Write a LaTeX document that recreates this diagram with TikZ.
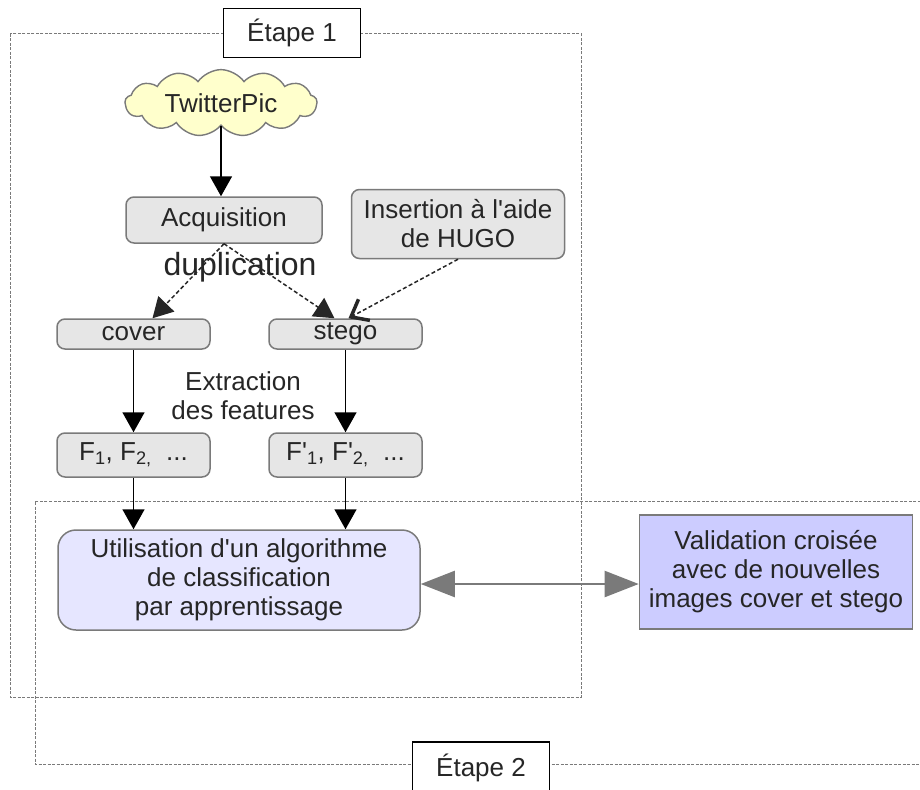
\documentclass[tikz,border=0pt]{standalone}
\usepackage{fontspec}
\setmainfont{Liberation Sans}
\usetikzlibrary{shapes.symbols,arrows.meta}
\definecolor{txt}{HTML}{262626}
\definecolor{boxgray}{HTML}{E6E6E6}
\definecolor{edgegray}{HTML}{7A7A7A}
\definecolor{cloudfill}{HTML}{FFFFCC}
\definecolor{utilfill}{HTML}{E6E6FF}
\definecolor{validfill}{HTML}{CCCCFF}
\newcommand{\apos}{\textquotesingle}
\tikzset{
  every node/.style={text=txt, font=\fontsize{26}{29}\selectfont, inner sep=0pt, align=center},
  graybox/.style={draw=edgegray, fill=boxgray, line width=1.5pt, rounded corners=8pt},
  frame/.style={draw=edgegray, line width=1pt, dash pattern=on 3pt off 1.5pt},
  labelbox/.style={draw=black, fill=white, line width=1.8pt, minimum width=137pt},
  blackarrow/.style={draw=black, line width=1.6pt, -{Triangle[length=20pt,width=22pt]}},
  dasharrow/.style={draw=black!85, line width=1.5pt, dash pattern=on 4pt off 2.5pt, -{Triangle[length=20pt,width=22pt]}},
  barbarrow/.style={draw=black!85, line width=1.5pt, dash pattern=on 4pt off 2.5pt, -{Straight Barb[length=15pt,width=24pt,line width=3.5pt]}},
  grayarrow/.style={draw=edgegray, line width=2.2pt, {Triangle[length=34pt,width=26pt]}-{Triangle[length=34pt,width=26pt]}}
}
\begin{document}
\begin{tikzpicture}[x=1pt,y=-1pt]
\useasboundingbox (0,0) rectangle (920,789);
\clip (0,0) rectangle (920,789);
% frames
\draw[frame] (10,34) rectangle (581,697);
\draw[frame] (925,501) -- (35,501) -- (35,764) -- (925,764);
% label boxes
\node[labelbox, minimum height=49pt] (etape1) at (292,33) {Étape 1};
\node[labelbox, minimum height=52pt] (etape2) at (481,768) {Étape 2};
% nodes
\node[cloud, cloud puffs=13, cloud puff arc=110, aspect=3.3, draw=edgegray, fill=cloudfill, line width=1.4pt,
      minimum width=192pt, minimum height=60pt] (twitter) at (221,103) {TwitterPic};
\node[graybox, minimum width=196pt, minimum height=46pt] (acq) at (224,220) {Acquisition};
\node[graybox, minimum width=213pt, minimum height=69pt] (ins) at (458,224) {Insertion à l\apos aide\\de HUGO};
\node[font=\fontsize{32}{36}\selectfont] (dup) at (240,267) {duplication};
\node[graybox, minimum width=153pt, minimum height=30pt] (cover) at (133.5,334) {cover};
\node[graybox, minimum width=153pt, minimum height=30pt] (stego) at (345.5,334) {stego};
\node (extr) at (243,396) {Extraction\\des features};
\node[graybox, minimum width=153pt, minimum height=44pt] (F) at (133.5,455) {F\textsubscript{1}, F\textsubscript{2,}\ \ ...};
\node[graybox, minimum width=153pt, minimum height=44pt] (Fp) at (345.5,455) {F\apos\textsubscript{1}, F\apos\textsubscript{2,}\ \ ...};
\node[draw=edgegray, fill=utilfill, line width=1.5pt, rounded corners=18pt,
      minimum width=362pt, minimum height=100pt] (util) at (239,580) {Utilisation d\apos un algorithme\\de classification\\par apprentissage};
\node[draw=edgegray, fill=validfill, line width=1.6pt,
      minimum width=273pt, minimum height=114pt] (valid) at (776,572) {Validation croisée\\avec de nouvelles\\images cover et stego};
% connectors
\draw[blackarrow] (twitter.south) -- (twitter.south |- acq.north);
\draw[dasharrow] (acq.south) -- ([xshift=19pt]cover.north);
\draw[dasharrow] (acq.south) -- ([xshift=-11pt]stego.north);
\draw[barbarrow] (ins.south) -- ([xshift=3pt]stego.north);
\draw[blackarrow] (cover.south) -- (F.north);
\draw[blackarrow] (stego.south) -- (Fp.north);
\draw[blackarrow] (F.south) -- (F.south |- util.north);
\draw[blackarrow] (Fp.south) -- (Fp.south |- util.north);
\draw[grayarrow] ([yshift=-4pt]util.east) -- ([yshift=-4pt]util.east -| valid.west);
\end{tikzpicture}
\end{document}
